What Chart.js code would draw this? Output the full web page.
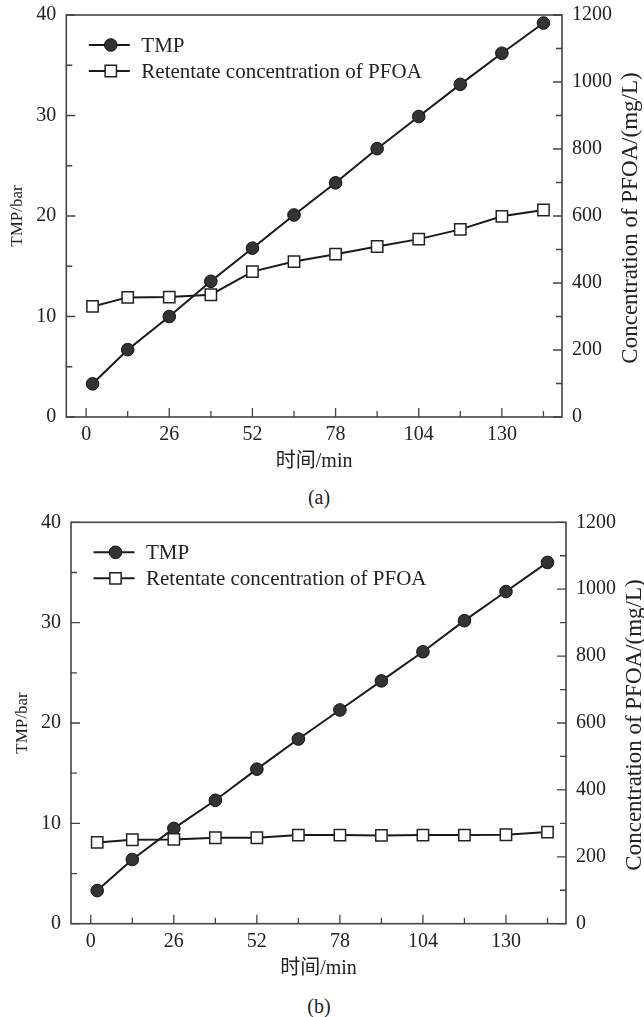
<!DOCTYPE html>
<html>
<head>
<meta charset="utf-8">
<script src="https://cdn.jsdelivr.net/npm/chart.js@4/dist/chart.umd.min.js"></script>
<style>
  html, body { margin: 0; padding: 0; background: #fff; }
  body { width: 644px; height: 1017px; position: relative; overflow: hidden;
         font-family: "Liberation Serif", "Noto Sans CJK SC", serif; }
  .panel { position: absolute; left: 0; width: 644px; height: 480px; }
  .cap { position: absolute; left: 0; width: 638px; text-align: center;
         font-size: 20px; line-height: 24px; color: #222; }
</style>
</head>
<body>
<div class="panel" style="top:0px"><canvas id="chartA" width="644" height="480"></canvas></div>
<div class="cap" id="capA" style="top:485px">(a)</div>
<div class="panel" style="top:505px"><canvas id="chartB" width="644" height="480"></canvas></div>
<div class="cap" id="capB" style="top:994px">(b)</div>
<script>
// ---------------- data ----------------
const timeMin = [2, 13, 26, 39, 52, 65, 78, 91, 104, 117, 130, 143];
const tmpA  = [3.3, 6.7, 10.0, 13.5, 16.8, 20.1, 23.3, 26.7, 29.9, 33.1, 36.2, 39.2];
const concA = [330, 357, 358, 365, 434, 464, 486, 509, 531, 560, 599, 618];
const tmpB  = [3.3, 6.4, 9.5, 12.3, 15.4, 18.4, 21.3, 24.2, 27.1, 30.2, 33.1, 36.0];
const concB = [243, 251, 252, 257, 257, 265, 265, 264, 265, 265, 266, 274];

const xTickValues = [0, 13, 26, 39, 52, 65, 78, 91, 104, 117, 130, 143];
const xTickLabels = [0, 26, 52, 78, 104, 130];
const tmpTickValues = [0, 5, 10, 15, 20, 25, 30, 35, 40];
const tmpTickLabels = [0, 10, 20, 30, 40];
const concTickValues = [0, 100, 200, 300, 400, 500, 600, 700, 800, 900, 1000, 1100, 1200];
const concTickLabels = [0, 200, 400, 600, 800, 1000, 1200];

const seriesNames = ['TMP', 'Retentate concentration of PFOA'];
const xTitle = '时间/min';
const yTitle = 'TMP/bar';
const y1Title = 'Concentration of PFOA/(mg/L)';

// ---------------- style ----------------
const FONT = "'Liberation Serif', 'Noto Sans CJK SC', serif";
const TEXT = '#222';
const AXIS = '#444';
const LINE = '#1a1a1a';

const decor = {
  id: 'decor',
  beforeDatasetsDraw(chart) {
    const { ctx, chartArea: a, scales } = chart;
    ctx.save();
    ctx.strokeStyle = AXIS;
    ctx.lineWidth = 1.3;
    ctx.beginPath();
    xTickValues.forEach(v => {
      const p = scales.x.getPixelForValue(v);
      const len = xTickLabels.includes(v) ? 9 : 6;
      ctx.moveTo(p, a.bottom); ctx.lineTo(p, a.bottom - len);
    });
    tmpTickValues.forEach(v => {
      const p = scales.y.getPixelForValue(v);
      const len = tmpTickLabels.includes(v) ? 9 : 6;
      ctx.moveTo(a.left, p); ctx.lineTo(a.left + len, p);
    });
    concTickValues.forEach(v => {
      const p = scales.y1.getPixelForValue(v);
      const len = concTickLabels.includes(v) ? 9 : 6;
      ctx.moveTo(a.right, p); ctx.lineTo(a.right - len, p);
    });
    ctx.stroke();
    ctx.lineWidth = 1.6;
    ctx.strokeRect(a.left, a.top, a.right - a.left, a.bottom - a.top);
    ctx.restore();
  },
  afterDraw(chart) {
    const { ctx, chartArea: a } = chart;
    ctx.save();
    // legend
    chart.data.datasets.forEach((ds, i) => {
      const y = a.top + 30 + i * 26;
      ctx.strokeStyle = ds.borderColor;
      ctx.lineWidth = ds.borderWidth;
      ctx.beginPath();
      ctx.moveTo(a.left + 22.5, y); ctx.lineTo(a.left + 63.5, y);
      ctx.stroke();
      ctx.fillStyle = ds.pointBackgroundColor;
      ctx.strokeStyle = ds.pointBorderColor;
      ctx.lineWidth = ds.pointBorderWidth;
      ctx.beginPath();
      if (ds.pointStyle === 'circle') {
        ctx.arc(a.left + 44.5, y, ds.pointRadius, 0, Math.PI * 2);
      } else {
        const s = ds.pointRadius * Math.SQRT1_2;
        ctx.rect(a.left + 44.5 - s, y - s, 2 * s, 2 * s);
      }
      ctx.fill(); ctx.stroke();
      ctx.fillStyle = TEXT;
      ctx.font = "21px " + FONT;
      ctx.textBaseline = 'middle';
      ctx.textAlign = 'left';
      ctx.fillText(ds.label, a.left + 75, y + 1);
    });
    // right axis title, reading bottom-to-top
    ctx.translate(a.right + 69, (a.top + a.bottom) / 2 + 2);
    ctx.rotate(-Math.PI / 2);
    ctx.font = "23px " + FONT;
    ctx.fillStyle = TEXT;
    ctx.textAlign = 'center';
    ctx.textBaseline = 'middle';
    ctx.fillText(y1Title, 0, 0);
    ctx.restore();
  }
};

function makeChart(id, tmp, conc, g) {
  const H = 480;
  const xH = 57;
  return new Chart(document.getElementById(id), {
    type: 'line',
    data: {
      datasets: [
        {
          label: seriesNames[0],
          data: timeMin.map((t, i) => ({ x: t, y: tmp[i] })),
          yAxisID: 'y', order: 2,
          borderColor: LINE, borderWidth: 2, tension: 0,
          pointStyle: 'circle', pointRadius: 6.3,
          pointBackgroundColor: '#333', pointBorderColor: '#111', pointBorderWidth: 1
        },
        {
          label: seriesNames[1],
          data: timeMin.map((t, i) => ({ x: t, y: conc[i] })),
          yAxisID: 'y1', order: 1,
          borderColor: LINE, borderWidth: 2, tension: 0,
          pointStyle: 'rect', pointRadius: 8,
          pointBackgroundColor: '#fff', pointBorderColor: '#222', pointBorderWidth: 1.5
        }
      ]
    },
    options: {
      responsive: false, animation: false, devicePixelRatio: 1,
      layout: { padding: { top: g.top, left: 0, right: 0, bottom: H - g.bottom - xH } },
      plugins: { legend: { display: false }, tooltip: { enabled: false }, title: { display: false } },
      scales: {
        x: {
          type: 'linear', min: -6.2, max: 148.8,
          afterBuildTicks: s => { s.ticks = xTickValues.map(v => ({ value: v })); },
          afterFit: s => { s.height = xH; s.paddingLeft = 0; s.paddingRight = 0; },
          grid: { display: false, drawTicks: false },
          border: { display: false },
          ticks: {
            autoSkip: false, maxRotation: 0, padding: 6, color: TEXT,
            font: { family: FONT, size: 20 },
            callback: v => xTickLabels.includes(v) ? String(v) : ''
          },
          title: { display: true, text: xTitle, color: TEXT, padding: 0,
                   font: { family: FONT, size: 20 } }
        },
        y: {
          type: 'linear', position: 'left', min: 0, max: 40,
          afterBuildTicks: s => { s.ticks = tmpTickValues.map(v => ({ value: v })); },
          afterFit: s => { s.width = g.left; s.paddingTop = 0; s.paddingBottom = 0; },
          grid: { display: false, drawTicks: false },
          border: { display: false },
          ticks: {
            autoSkip: false, padding: 10, color: TEXT,
            font: { family: FONT, size: 20 },
            callback: v => tmpTickLabels.includes(v) ? String(v) : ''
          },
          title: { display: true, text: yTitle, color: TEXT,
                   padding: { top: g.left - 48.5 - 10.2, bottom: 0 },
                   font: { family: FONT, size: 17 } }
        },
        y1: {
          type: 'linear', position: 'right', min: 0, max: 1200,
          afterBuildTicks: s => { s.ticks = concTickValues.map(v => ({ value: v })); },
          afterFit: s => { s.width = 644 - g.right; s.paddingTop = 0; s.paddingBottom = 0; },
          grid: { display: false, drawTicks: false },
          border: { display: false },
          ticks: {
            autoSkip: false, padding: 10, color: TEXT,
            font: { family: FONT, size: 20 },
            callback: v => concTickLabels.includes(v) ? String(v) : ''
          }
        }
      }
    },
    plugins: [decor]
  });
}

makeChart('chartA', tmpA, concA, { left: 66.3, right: 562, top: 15, bottom: 417 });
makeChart('chartB', tmpB, concB, { left: 71, right: 566, top: 17.3, bottom: 418.7 });
</script>
</body>
</html>
